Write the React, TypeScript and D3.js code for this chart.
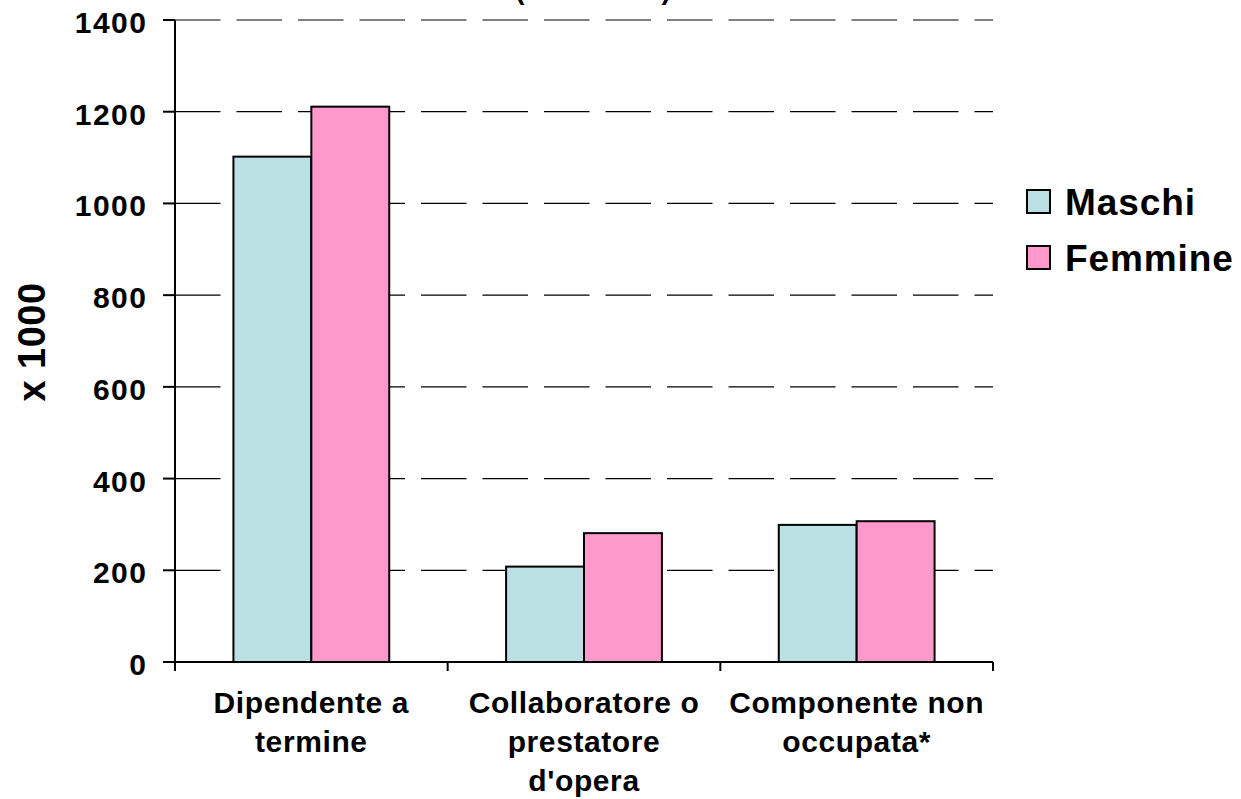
import React from "react";
import * as d3 from "d3";

const categories: string[][] = [
  ["Dipendente a", "termine"],
  ["Collaboratore o", "prestatore", "d'opera"],
  ["Componente non", "occupata*"],
];
const seriesNames = ["Maschi", "Femmine"];
const maschi = [1102, 208, 299];
const femmine = [1211, 281, 307];
const yTicks = [0, 200, 400, 600, 800, 1000, 1200, 1400];
const titleText = "(anno 2006)";
const yLabel = "x 1000";

const colors = ["#BBE0E3", "#FF99CC"];
const FONT = "'Liberation Sans', Arial, Helvetica, sans-serif";

export default function App() {
  const W = 1241, H = 799;
  const left = 175, right = 993, top = 20, bottom = 662;
  const y = d3.scaleLinear().domain([0, 1400]).range([bottom, top]);
  const idx = categories.map((_, i) => String(i));
  const x0 = d3.scaleBand().domain(idx).range([left, right]).paddingInner(0).paddingOuter(0);
  const bw = x0.bandwidth() / 3.5;
  const x1 = d3.scaleBand().domain(seriesNames).range([0, bw * 2]);
  const values = [maschi, femmine];

  return (
    <svg width={W} height={H} style={{ position: "absolute", left: 0, top: 0, background: "#fff" }} fontFamily={FONT}>
      <rect x={0} y={0} width={W} height={H} fill="#fff" />
      <text x={593} y={-1} textAnchor="middle" fontSize={28} fontWeight="bold">{titleText}</text>
      {/* gridlines */}
      {yTicks.filter(t => t > 0).map(t => (
        <line key={"g" + t} x1={left} x2={right} y1={y(t)} y2={y(t)} stroke="#000" strokeWidth={1.2} strokeDasharray="45.5 16" />
      ))}
      {/* bars */}
      {categories.map((_, ci) => {
        const gx = x0(String(ci))! + (x0.bandwidth() - bw * 2) / 2;
        return seriesNames.map((s, si) => (
          <rect key={ci + s} x={gx + x1(s)!} y={y(values[si][ci])} width={x1.bandwidth()} height={bottom - y(values[si][ci])}
            fill={colors[si]} stroke="#000" strokeWidth={2} />
        ));
      })}
      {/* y axis */}
      <line x1={left} x2={left} y1={top} y2={bottom} stroke="#000" strokeWidth={2} />
      {yTicks.map(t => (
        <g key={"t" + t}>
          <line x1={left - 12} x2={left} y1={y(t)} y2={y(t)} stroke="#000" strokeWidth={2} />
          <text x={147.5} y={y(t) + 13} textAnchor="end" fontSize={30} fontWeight="bold" letterSpacing={1.5}>{t}</text>
        </g>
      ))}
      {/* x axis */}
      <line x1={left} x2={right} y1={bottom} y2={bottom} stroke="#000" strokeWidth={2} />
      {[0, 1, 2, 3].map(i => {
        const xx = left + i * x0.bandwidth();
        return <line key={"xt" + i} x1={xx} x2={xx} y1={bottom} y2={bottom + 9} stroke="#000" strokeWidth={2} />;
      })}
      {categories.map((lines, ci) => (
        <text key={"c" + ci} x={x0(String(ci))! + x0.bandwidth() / 2} y={713} textAnchor="middle" fontSize={30} fontWeight="bold" letterSpacing={0.6}>
          {lines.map((l, li) => (
            <tspan key={li} x={x0(String(ci))! + x0.bandwidth() / 2} y={713 + li * 39}>{l}</tspan>
          ))}
        </text>
      ))}
      {/* y label */}
      <text transform={`translate(45,342) rotate(-90)`} textAnchor="middle" fontSize={38} fontWeight="bold" letterSpacing={0.5}>{yLabel}</text>
      {/* legend */}
      {seriesNames.map((s, si) => (
        <g key={"l" + s} transform={`translate(1027,${190 + si * 56})`}>
          <rect x={0} y={0} width={23} height={23} fill={colors[si]} stroke="#000" strokeWidth={2} />
          <text x={38} y={25} fontSize={37} fontWeight="bold" letterSpacing={0.9}>{s}</text>
        </g>
      ))}
    </svg>
  );
}
